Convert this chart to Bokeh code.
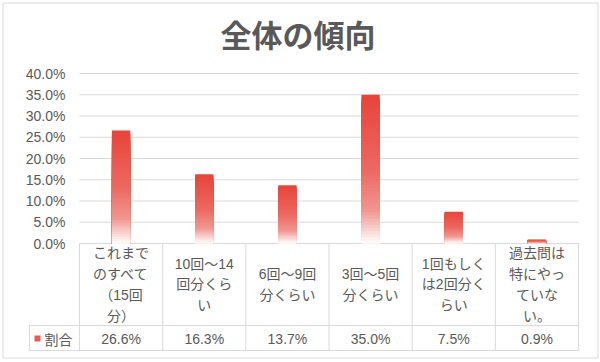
from bokeh.plotting import figure
from bokeh.models import Range1d, FixedTicker, PrintfTickFormatter, Label
from bokeh.core.properties import value
from bokeh.embed import file_html
from bokeh.resources import INLINE

# ---------------- data ----------------
title_text = "全体の傾向"
series_name = "割合"
categories = ["これまでのすべて（15回分）", "10回～14回分くらい", "6回～9回分くらい",
              "3回～5回分くらい", "1回もしくは2回分くらい", "過去問は特にやっていない。"]
category_lines = ["これまで\nのすべて\n（15回\n分）", "10回～14\n回分くら\nい", "6回～9回\n分くらい",
                  "3回～5回\n分くらい", "1回もしく\nは2回分く\nらい", "過去問は\n特にやっ\nていな\nい。"]
values = [26.6, 16.3, 13.7, 35.0, 7.5, 0.9]
y_ticks = [0, 5, 10, 15, 20, 25, 30, 35, 40]

# ---------------- styling / geometry (pixels) ----------------
W, H = 600, 362
PL, PR = 79, 578            # plot area left/right
PT, ZERO = 73, 243          # 40% line and 0% line
KEY_L = 29                  # left edge of the table's legend-key column
FRAME_L, FRAME_R, FRAME_T, FRAME_B = 1, 599, 0, 361
Y_MAX = 40
PX_PER_UNIT = (ZERO - PT) / Y_MAX
N_CAT = len(categories)
CAT_W = (PR - PL) / N_CAT

def ydown(px):              # pixels below the 0% line -> data units
    return -px / PX_PER_UNIT

def xleft(px):              # pixels left of the plot area -> data units
    return -px / CAT_W

TEXT = "#595959"
GRID = "#d9d9d9"
LATIN = "Liberation Sans, Noto Sans CJK JP"
CJK = "Noto Sans CJK JP"
FS = "14px"
BAR_W = 0.22

stops = [(0.0, (232, 68, 58)), (0.5, (236, 104, 96)), (0.78, (241, 150, 144)), (1.0, (255, 255, 255))]

def grad(t):
    for (t0, c0), (t1, c1) in zip(stops[:-1], stops[1:]):
        if t <= t1:
            f = (t - t0) / (t1 - t0)
            return "#%02x%02x%02x" % tuple(int(round(a + (b - a) * f)) for a, b in zip(c0, c1))
    return "#ffffff"

p = figure(width=W, height=H, output_backend="svg", toolbar_location=None,
           x_range=Range1d(xleft(PL - FRAME_L), N_CAT + (FRAME_R - PR) / CAT_W),
           y_range=Range1d(ydown(FRAME_B - ZERO), Y_MAX + (PT - FRAME_T) / PX_PER_UNIT),
           min_border_left=FRAME_L, min_border_right=W - FRAME_R, min_border_top=FRAME_T,
           min_border_bottom=H - FRAME_B, x_axis_location=None)
p.outline_line_color = None
p.xgrid.grid_line_color = None
p.ygrid.grid_line_color = None

# y axis: labels pulled right so they end just left of the plot area
ya = p.yaxis[0]
ya.ticker = FixedTicker(ticks=y_ticks)
ya.formatter = PrintfTickFormatter(format="%.1f%%")
ya.axis_line_color = None
ya.major_tick_line_color = None
ya.minor_tick_line_color = None
ya.major_tick_in = 0
ya.major_tick_out = 0
ya.major_label_standoff = -(PL - 14 - FRAME_L)
ya.major_label_text_font = LATIN
ya.major_label_text_font_size = FS
ya.major_label_text_color = TEXT

# chart-area border
BL, BR, BT, BB = xleft(PL - 2.5), N_CAT + (597.5 - PR) / CAT_W, (ZERO - 2.5) / PX_PER_UNIT, ydown(357.5 - ZERO)
p.segment(x0=[BL, BL, BL, BR], y0=[BT, BB, BT, BT], x1=[BR, BR, BL, BR], y1=[BT, BB, BB, BB],
          line_color=GRID, line_width=1)

# gridlines across the plot area only
p.segment(x0=[0] * len(y_ticks), y0=y_ticks, x1=[N_CAT] * len(y_ticks), y1=y_ticks,
          line_color=GRID, line_width=1)

# title
p.add_layout(Label(x=xleft(PL - 297.5), y=(ZERO - 32.5) / PX_PER_UNIT, text=title_text,
                   text_align="center", text_baseline="middle", text_font=CJK,
                   text_font_size="31px", text_font_style="bold", text_color=TEXT))

# bars with a vertical gradient: overlapping slices computed from the values
N = 48
ql, qr, qt, qb, qc = [], [], [], [], []
for i, v in enumerate(values):
    cx = i + 0.5
    for k in range(N):
        t = k / N
        ql.append(cx - BAR_W / 2)
        qr.append(cx + BAR_W / 2)
        qt.append(v * (1 - t))
        qb.append(0)
        qc.append(grad(t + 0.5 / N))
p.quad(left=ql, right=qr, top=qt, bottom=qb, fill_color=qc, line_color=None)

# ================= data table =================
HEADER_MID, ROW_LINE, ROW_MID, BOTTOM = ydown(41), ydown(82), ydown(95), ydown(107)
KL = xleft(PL - KEY_L)

xs = list(range(N_CAT + 1))
p.segment(x0=xs, y0=[0] * len(xs), x1=xs, y1=[BOTTOM] * len(xs), line_color=GRID, line_width=1)
p.segment(x0=[KL, KL, KL], y0=[ROW_LINE, BOTTOM, ROW_LINE],
          x1=[N_CAT, N_CAT, KL], y1=[ROW_LINE, BOTTOM, BOTTOM], line_color=GRID, line_width=1)

cx = [i + 0.5 for i in range(N_CAT)]
p.text(x=cx, y=[HEADER_MID] * N_CAT, text=category_lines, text_align="center", text_baseline="middle",
       text_font=value(LATIN), text_font_size=FS, text_color=TEXT, text_line_height=1.31)
p.text(x=cx, y=[ROW_MID] * N_CAT, text=["%.1f%%" % v for v in values], text_align="center",
       text_baseline="middle", text_font=value(LATIN), text_font_size=FS, text_color=TEXT)

# legend key
p.quad(left=[KL + 5 / CAT_W], right=[KL + 11 / CAT_W], top=[ydown(92)], bottom=[ydown(98)],
       fill_color="#eb5a50", line_color=None)
p.text(x=[KL + 15 / CAT_W], y=[ROW_MID], text=[series_name], text_align="left", text_baseline="middle",
       text_font=value(CJK), text_font_size=FS, text_color=TEXT)

open("out.html", "w").write(file_html(p, INLINE))
